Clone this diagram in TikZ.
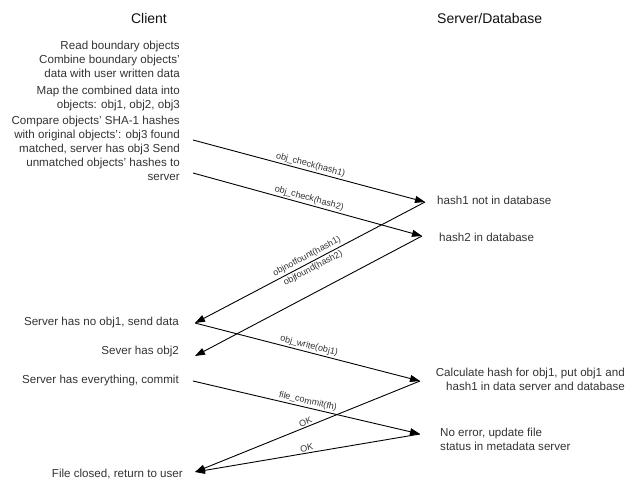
\documentclass[tikz,border=0pt]{standalone}
\usepackage{fontspec}
\setmainfont{Liberation Sans}
\usetikzlibrary{arrows.meta}
\definecolor{txtgray}{HTML}{333333}
\definecolor{titlegray}{HTML}{111111}
\begin{document}
\begin{tikzpicture}[x=1pt,y=-1pt,
  bodytext/.style={font=\fontsize{11.6}{14}\selectfont, text=txtgray, inner sep=0pt},
  titletext/.style={font=\fontsize{14}{16}\selectfont, text=titlegray, inner sep=0pt},
  msg/.style={draw=black, line width=0.9pt, -{Triangle[length=10pt,width=7pt]}},
  lbl/.style={font=\fontsize{9}{10}\selectfont, text=txtgray, sloped, midway, inner sep=1.5pt}
]
\useasboundingbox (0,0) rectangle (634,483);

% titles
\node[titletext] (client) at (149,18) {Client};
\node[titletext, anchor=west] (server) at (437,18) {Server/Database};

% client side texts
\node[bodytext, anchor=north east, align=right] (read) at (180,40.5)
  {Read boundary objects\\Combine boundary objects'\\data with user written data};
\node[bodytext, anchor=north east, align=right] (map) at (180,85.5)
  {Map the combined data into\\objects: obj1, obj2, obj3};
\node[bodytext, anchor=north east, align=right] (compare) at (180,115.5)
  {Compare objects' SHA-1 hashes\\with original objects': obj3 found\\matched, server has obj3 Send\\unmatched objects' hashes to\\server};
\node[bodytext, anchor=east] (noobj) at (179,322) {Server has no obj1, send data};
\node[bodytext, anchor=east] (hasobj) at (179,351) {Sever has obj2};
\node[bodytext, anchor=east] (commit) at (179,380) {Server has everything, commit};
\node[bodytext, anchor=east] (closed) at (183,474) {File closed, return to user};

% server side texts
\node[bodytext, anchor=west] (h1) at (437,200) {hash1 not in database};
\node[bodytext, anchor=west] (h2) at (439,237) {hash2 in database};
\node[bodytext, anchor=north east, align=right] (calc) at (625,367.5)
  {Calculate hash for obj1, put obj1 and\\hash1 in data server and database};
\node[bodytext, anchor=north west, align=left] (noerr) at (440,427.5)
  {No error, update file\\status in metadata server};

% connector end points
\coordinate (c1) at (193,140);
\coordinate (c2) at (193,173);
\coordinate (c3) at (195,323);
\coordinate (c4) at (195,356);
\coordinate (c5) at (193,381);
\coordinate (c6) at (195,472);
\coordinate (s1) at (425,202);
\coordinate (s2) at (422,236);
\coordinate (s3) at (420,381);
\coordinate (s4) at (420,434);

% messages
\draw[msg] (c1) -- node[lbl, above] (l1) {obj\_check(hash1)} (s1);
\draw[msg] (c2) -- node[lbl, above] (l2) {obj\_check(hash2)} (s2);
\draw[msg] (s1) -- node[lbl, above, inner sep=2pt] (l3) {objnotfount(hash1)}
                   node[lbl, below, inner sep=2pt] (l4) {objfound(hash2)} (c3);
\draw[msg] (s2) -- (c4);
\draw[msg] (c3) -- node[lbl, above] (l5) {obj\_write(obj1)} (s3);
\draw[msg] (c5) -- node[lbl, above] (l6) {file\_commit(fh)} (s4);
\draw[msg] (s3) -- node[lbl, above] (l7) {OK} (c6);
\draw[msg] (s4) -- node[lbl, above] (l8) {OK} (c6);
\end{tikzpicture}
\end{document}
